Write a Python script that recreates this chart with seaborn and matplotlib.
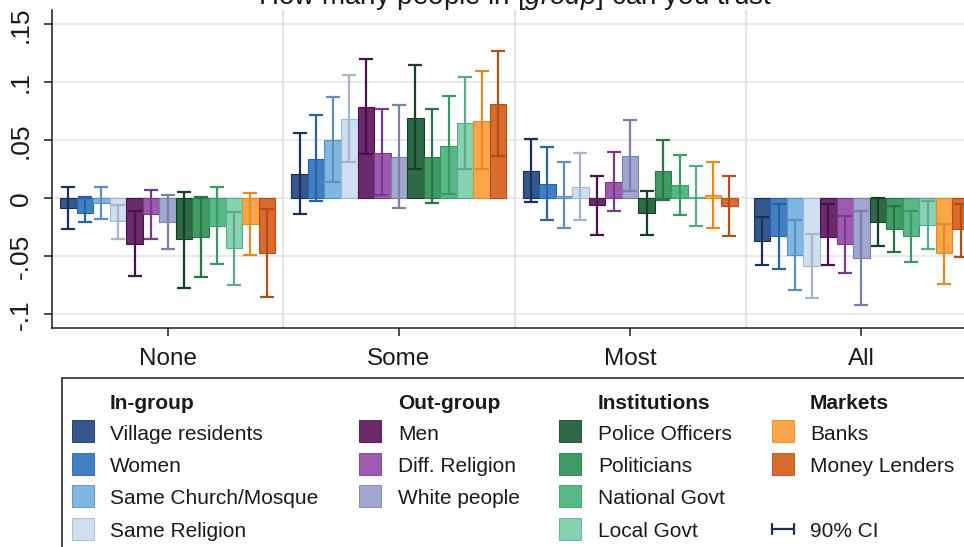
"""
plot.py
-------
Trust by group: grouped bars with 90% CI, Stata-like look.
"""

import numpy as np
import pandas as pd
import matplotlib
matplotlib.use("Agg")
import matplotlib.pyplot as plt
from matplotlib.patches import Rectangle
from matplotlib.lines import Line2D
import seaborn as sns

# ─────────────────────────────────────────────
# Data
# ─────────────────────────────────────────────

CATS = ["None", "Some", "Most", "All"]

SERIES = ["Village residents", "Women", "Same Church/Mosque", "Same Religion",
          "Men", "Diff. Religion", "White people",
          "Police Officers", "Politicians", "National Govt", "Local Govt",
          "Banks", "Money Lenders"]

mean_none = [-0.0086, -0.0130, -0.0040, -0.0195, -0.0390, -0.0138, -0.0207,
             -0.0353, -0.0333, -0.0236, -0.0430, -0.0218, -0.0468]
hi_none   = [0.0095, 0.0010, 0.0095, -0.0055, -0.0106, 0.0069, 0.0026,
             0.0057, 0.0014, 0.0095, -0.0120, 0.0049, -0.0095]
lo_none   = [-0.0264, -0.0207, -0.0178, -0.0353, -0.0672, -0.0350, -0.0440,
             -0.0776, -0.0680, -0.0570, -0.0747, -0.0489, -0.0848]

mean_some = [0.0213, 0.0342, 0.0506, 0.0684, 0.0787, 0.0394, 0.0353,
             0.0693, 0.0359, 0.0454, 0.0647, 0.0670, 0.0813]
hi_some   = [0.0566, 0.0716, 0.0874, 0.1060, 0.1204, 0.0767, 0.0800,
             0.1147, 0.0767, 0.0882, 0.1046, 0.1098, 0.1267]
lo_some   = [-0.0132, -0.0023, 0.0144, 0.0310, 0.0379, 0.0029, -0.0086,
             0.0250, -0.0040, 0.0034, 0.0250, 0.0250, 0.0368]

mean_most = [0.0239, 0.0124, 0.0017, 0.0101, -0.0055, 0.0144, 0.0368,
             -0.0126, 0.0236, 0.0112, 0.0009, 0.0026, -0.0063]
hi_most   = [0.0514, 0.0445, 0.0313, 0.0394, 0.0195, 0.0402, 0.0675,
             0.0066, 0.0500, 0.0376, 0.0282, 0.0316, 0.0190]
lo_most   = [-0.0029, -0.0187, -0.0259, -0.0187, -0.0313, -0.0109, 0.0063,
             -0.0319, -0.0017, -0.0147, -0.0241, -0.0253, -0.0325]

mean_all  = [-0.0365, -0.0328, -0.0489, -0.0580, -0.0336, -0.0394, -0.0511,
             -0.0201, -0.0261, -0.0328, -0.0227, -0.0474, -0.0267]
hi_all    = [-0.0161, -0.0052, -0.0187, -0.0310, -0.0052, -0.0152, -0.0112,
             0.0000, -0.0063, -0.0109, -0.0023, -0.0221, -0.0049]
lo_all    = [-0.0575, -0.0609, -0.0790, -0.0856, -0.0572, -0.0641, -0.0917,
             -0.0414, -0.0466, -0.0546, -0.0434, -0.0741, -0.0506]

YTICKS      = [-0.1, -0.05, 0, 0.05, 0.1, 0.15]
YTICKLABELS = ["-.1", "-.05", "0", ".05", ".1", ".15"]

# legend layout: (header, members)
GROUPS = [("In-group",     SERIES[0:4]),
          ("Out-group",    SERIES[4:7]),
          ("Institutions", SERIES[7:11]),
          ("Markets",      SERIES[11:13])]

FILL = ["#34578e", "#4080c2", "#80b7e2", "#cddff1",
        "#6a2a6c", "#9c5bb0", "#a1a7d0",
        "#2e6a47", "#3f9b63", "#58b986", "#86d2b1",
        "#fba64c", "#d96b2e"]
CI_COL = ["#1b2f5e", "#2a62a8", "#5a8fbf", "#a8b6c8",
          "#4b0f4c", "#7a3a8c", "#7a80a8",
          "#163f28", "#2b7444", "#3b9766", "#5ea88c",
          "#e58a1f", "#b44e16"]

W, H = 964, 547


def fx(px):
    return px / W


def fy(py):
    return 1 - py / H


# ─────────────────────────────────────────────
# Figure
# ─────────────────────────────────────────────

sns.set_theme(style="white")
plt.rcParams["font.family"] = ["Liberation Sans", "DejaVu Sans"]
plt.rcParams["mathtext.fontset"] = "custom"
plt.rcParams["mathtext.it"] = "Liberation Sans:italic"
plt.rcParams["mathtext.rm"] = "Liberation Sans"

means = {"None": mean_none, "Some": mean_some, "Most": mean_most, "All": mean_all}
his   = {"None": hi_none,   "Some": hi_some,   "Most": hi_most,   "All": hi_all}
los   = {"None": lo_none,   "Some": lo_some,   "Most": lo_most,   "All": lo_all}

df = pd.DataFrame([{"cat": c, "series": s, "value": means[c][i]}
                   for c in CATS for i, s in enumerate(SERIES)])

fig = plt.figure(figsize=(W / 100, H / 100), dpi=100)
fig.patch.set_facecolor("white")
ax = fig.add_axes([fx(52), fy(328), 925 / W, 318 / H])

sns.barplot(data=df, x="cat", y="value", hue="series", order=CATS,
            hue_order=SERIES, palette=FILL, saturation=1, width=0.93, gap=0,
            errorbar=None, legend=False, ax=ax, zorder=2)

# match each bar to (category, series) by its position
bars = [p for p in ax.patches if isinstance(p, Rectangle) and p.get_width() > 0]
by_cat = {}
for p in bars:
    ci = int(round(p.get_x() + p.get_width() / 2))
    by_cat.setdefault(ci, []).append(p)

for ci, cat in enumerate(CATS):
    row = sorted(by_cat.get(ci, []), key=lambda p: p.get_x())
    for si, p in enumerate(row):
        p.set_edgecolor(CI_COL[si])
        p.set_linewidth(0.8)
        m = means[cat][si]
        ax.errorbar(p.get_x() + p.get_width() / 2, m,
                    yerr=[[m - los[cat][si]], [his[cat][si] - m]],
                    fmt="none", ecolor=CI_COL[si], elinewidth=1.6,
                    capsize=4.8, capthick=1.6, zorder=3)

ax.set_xlim(-0.5, 3.5)
ax.set_ylim(-0.1118, 0.1623)
ax.set_yticks(YTICKS)
ax.set_yticklabels(YTICKLABELS)
ax.set_xlabel("")
ax.set_ylabel("")

# grid: horizontal at ticks, vertical between categories
for y in YTICKS:
    ax.axhline(y, color="#e9e9e9", lw=1.5, zorder=0)
for x in [0.5, 1.5, 2.5]:
    ax.axvline(x, color="#e4e4e4", lw=1.5, zorder=0)

for s in ["top", "right"]:
    ax.spines[s].set_visible(False)
for s in ["left", "bottom"]:
    ax.spines[s].set_color("#1a1a1a")
    ax.spines[s].set_linewidth(1.1)

ax.tick_params(axis="y", direction="out", length=6, width=1.1, pad=8,
               labelsize=19, labelrotation=90, left=True, colors="#1a1a1a")
ax.tick_params(axis="x", direction="out", length=5.5, width=1.1, pad=9,
               labelsize=17.5, bottom=True, colors="#1a1a1a")
for lab in ax.get_yticklabels():
    lab.set_va("center")

fig.text(fx(514.5), fy(4), r"How many people in $\it{[group]}$ can you trust",
         ha="center", va="baseline", fontsize=20, color="#1a1a1a")

# ─────────────────────────────────────────────
# Legend (drawn by hand, Stata style)
# ─────────────────────────────────────────────

fig.add_artist(Rectangle((fx(62), fy(560)), fx(920), (560 - 378) / H,
                         transform=fig.transFigure, facecolor="white",
                         edgecolor="#1a1a1a", lw=1.1, zorder=0))

SW_X   = [72, 359, 559, 772]
TXT_X  = [110, 398, 598, 810]
ROW_C  = [431, 463.5, 496, 528.5]
k = 0
for col, (head, members) in enumerate(GROUPS):
    fig.text(fx(TXT_X[col]), fy(409), head, fontsize=15, fontweight="bold",
             ha="left", va="baseline", color="#1a1a1a")
    for r, name in enumerate(members):
        fig.add_artist(Rectangle((fx(SW_X[col]), fy(ROW_C[r] + 11)), 22 / W, 22 / H,
                                 transform=fig.transFigure, facecolor=FILL[k],
                                 edgecolor=CI_COL[k], lw=0.6))
        fig.text(fx(TXT_X[col]), fy(ROW_C[r] + 8.5), name, fontsize=15,
                 ha="left", va="baseline", color="#1a1a1a")
        k += 1

# 90% CI marker
cy = ROW_C[3]
fig.add_artist(Line2D([fx(772), fx(794)], [fy(cy), fy(cy)],
                      transform=fig.transFigure, color=CI_COL[0], lw=1.6))
for x in [772, 794]:
    fig.add_artist(Line2D([fx(x), fx(x)], [fy(cy - 5), fy(cy + 5)],
                          transform=fig.transFigure, color=CI_COL[0], lw=1.6))
fig.text(fx(TXT_X[3]), fy(cy + 8.5), "90% CI", fontsize=15,
         ha="left", va="baseline", color="#1a1a1a")

fig.savefig("out.png", dpi=100, facecolor="white")
